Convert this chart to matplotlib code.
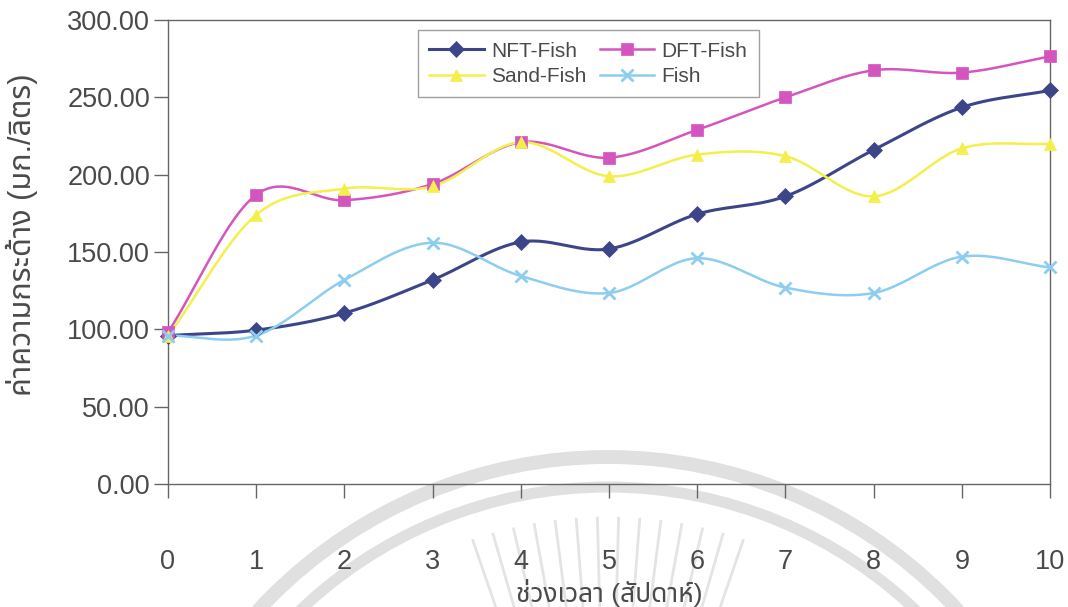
import numpy as np
import matplotlib
matplotlib.use("Agg")
import matplotlib.pyplot as plt
from matplotlib.patches import Arc

# weekly readings (mg/L)
weeks = [0, 1, 2, 3, 4, 5, 6, 7, 8, 9, 10]
nft_fish = [96, 99.5, 110.5, 132, 156.5, 152, 174.5, 186, 216, 243.5, 254.5]
dft_fish = [98, 187, 183.5, 194, 221, 211, 229, 250, 267.5, 266, 276.5]
sand_fish = [95.5, 174, 191, 192.5, 221, 199, 213, 212, 186, 217, 220]
fish = [96, 96, 132, 156, 134.5, 123.5, 146, 127, 123.5, 147, 140]

y_ticks = [0, 50, 100, 150, 200, 250, 300]

LATIN = ["Liberation Sans", "DejaVu Sans"]
THAI = ["Liberation Sans", "Noto Sans Thai", "Sarabun", "Athiti", "DejaVu Sans"]
TEXT_COLOR = "#4a4a4a"


def smooth(x, y, n=30):
    # Catmull-Rom curve through every point, like a spreadsheet "smoothed line"
    x = np.asarray(x, float)
    y = np.asarray(y, float)
    px = np.concatenate([[2 * x[0] - x[1]], x, [2 * x[-1] - x[-2]]])
    py = np.concatenate([[2 * y[0] - y[1]], y, [2 * y[-1] - y[-2]]])
    t = np.linspace(0, 1, n)
    xs, ys = [], []
    for i in range(1, len(px) - 2):
        for p, out in ((px, xs), (py, ys)):
            p0, p1, p2, p3 = p[i - 1], p[i], p[i + 1], p[i + 2]
            out.append(0.5 * ((2 * p1) + (-p0 + p2) * t
                              + (2 * p0 - 5 * p1 + 4 * p2 - p3) * t ** 2
                              + (-p0 + 3 * p1 - 3 * p2 + p3) * t ** 3))
    return np.concatenate(xs), np.concatenate(ys)


fig = plt.figure(figsize=(10.68, 6.07), dpi=100)
fig.patch.set_facecolor("white")

# faint seal stamped behind the chart, drawn in pixel space
bg = fig.add_axes([0, 0, 1, 1])
bg.set_xlim(0, 1068)
bg.set_ylim(607, 0)
bg.axis("off")
bg.set_zorder(0)
cx, cy = 608, 933
for r, lw in ((476, 10), (446, 8)):
    bg.add_patch(Arc((cx, cy), 2 * r, 2 * r, theta1=180, theta2=360,
                     color="#e0e0e0", lw=lw))
for ang in np.linspace(-109, -71, 14):
    a = np.radians(ang)
    r0, r1 = 325, 415
    bg.plot([cx + r0 * np.cos(a), cx + r1 * np.cos(a)],
            [cy + r0 * np.sin(a), cy + r1 * np.sin(a)], color="#e4e4e4", lw=2)

ax = fig.add_axes([0.1573, 0.2026, 0.8258, 0.7644])
ax.set_facecolor("none")
ax.set_zorder(2)

series = [
    ("NFT-Fish", nft_fish, "#3d4589", "D", 8, 2.2),
    ("DFT-Fish", dft_fish, "#d455be", "s", 8, 1.8),
    ("Sand-Fish", sand_fish, "#f4ef4c", "^", 9, 1.8),
    ("Fish", fish, "#8ccdf0", "x", 9, 1.8),
]
handles = []
for name, vals, col, mk, ms, lw in series:
    sx, sy = smooth(weeks, vals)
    ax.plot(sx, sy, color=col, lw=lw, zorder=3, clip_on=False)
    ax.plot(weeks, vals, ls="none", marker=mk, ms=ms, color=col,
            mew=2 if mk == "x" else 0.5, zorder=4, clip_on=False)
    h, = ax.plot([], [], color=col, lw=lw, marker=mk, ms=ms,
                 mew=2 if mk == "x" else 0.5, label=name)
    handles.append(h)

ax.set_xlim(0, 10)
ax.set_ylim(0, 300)
ax.set_xticks(weeks)
ax.set_xticklabels([str(w) for w in weeks], fontsize=19.5, family=LATIN, color=TEXT_COLOR)
ax.set_yticks(y_ticks)
ax.set_yticklabels(["%.2f" % v for v in y_ticks], fontsize=19.5, family=LATIN, color=TEXT_COLOR)
ax.tick_params(axis="x", direction="out", length=10, width=1, color="#666666", pad=37)
ax.tick_params(axis="y", direction="out", length=10, width=1, color="#666666", pad=3)
for s in ax.spines.values():
    s.set_color("#666666")
    s.set_linewidth(1)

ax.set_xlabel("ช่วงเวลา (สัปดาห์)", fontsize=19, family=THAI, color=TEXT_COLOR)
ax.xaxis.set_label_coords(0.5, -0.234)
ax.xaxis.label.set_va("center")
ax.set_ylabel("ค่าความกระด้าง (มก./ลิตร)", fontsize=22, family=THAI, color=TEXT_COLOR)
ax.yaxis.set_label_coords(-0.1655, 0.537)
ax.yaxis.label.set_va("center")

leg = ax.legend(handles=[handles[0], handles[2], handles[1], handles[3]],
                labels=["NFT-Fish", "Sand-Fish", "DFT-Fish", "Fish"],
                ncol=2, loc="upper left", bbox_to_anchor=(0.2834, 0.978),
                borderaxespad=0,
                prop={"family": LATIN, "size": 15}, frameon=True, fancybox=False,
                handlelength=2.6, handletextpad=0.35, columnspacing=0.65,
                labelspacing=0.3, borderpad=0.55, labelcolor=TEXT_COLOR)
leg.get_frame().set_edgecolor("#888888")
leg.get_frame().set_linewidth(1)

fig.savefig("out.png", dpi=100)
